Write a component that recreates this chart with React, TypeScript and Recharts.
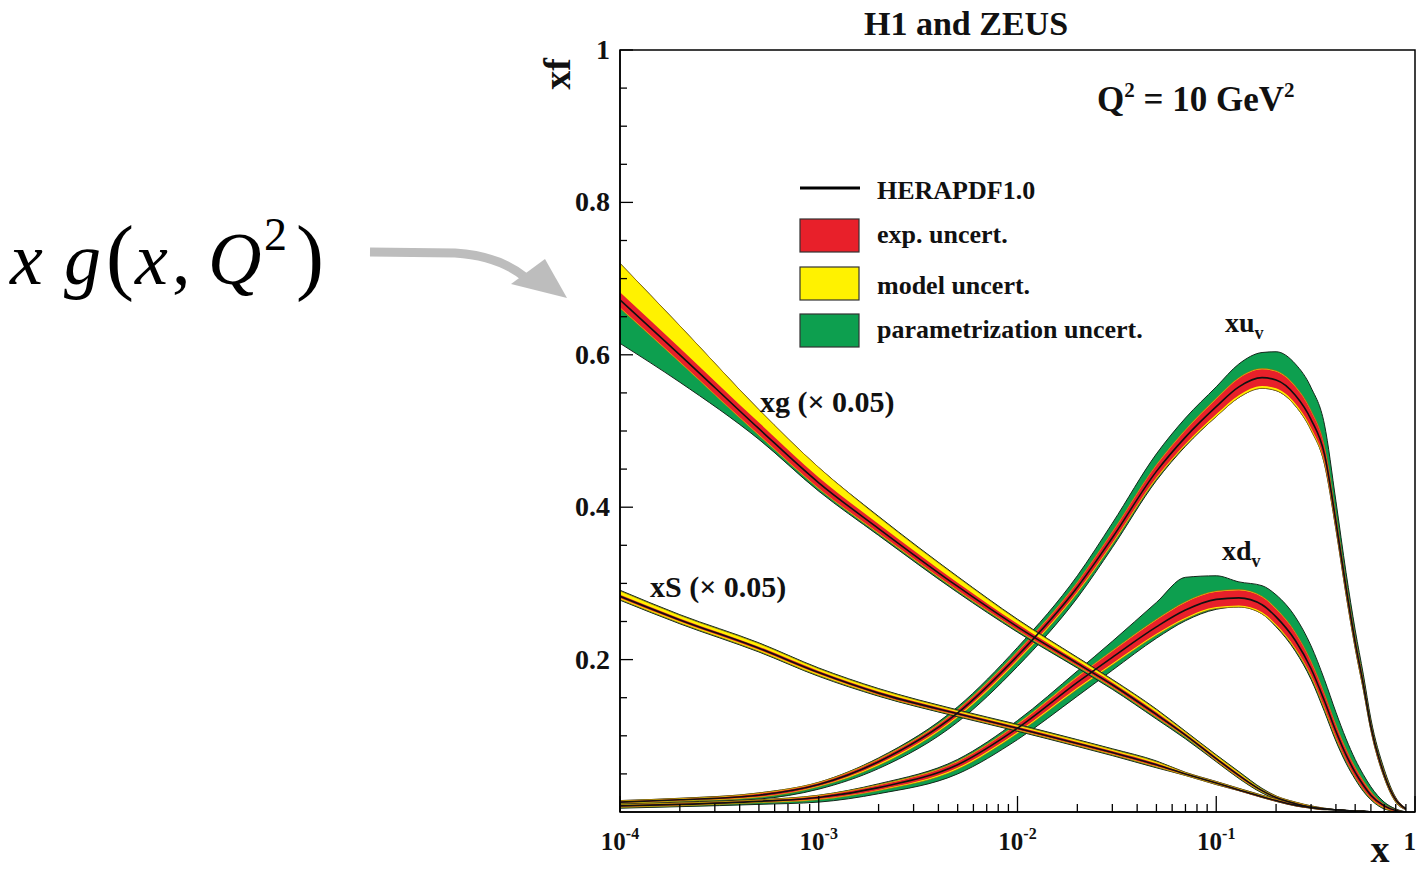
import { ComposedChart, Area, Line, XAxis, YAxis, ReferenceArea } from 'recharts';

// x grid shared by all the curves
const xGrid = [1e-4, 2e-4, 5e-4, 1e-3, 2e-3, 5e-3, 1e-2, 2e-2, 3e-2, 5e-2, 7e-2, 0.1, 0.13, 0.17, 0.2, 0.25, 0.3, 0.35, 0.4, 0.45, 0.5, 0.55, 0.6, 0.7, 0.8, 0.9];

// xu_v
const xuCentral = [0.013, 0.016, 0.022, 0.036, 0.066, 0.13, 0.205, 0.295, 0.36, 0.447, 0.492, 0.532, 0.558, 0.57, 0.567, 0.547, 0.515, 0.47, 0.381, 0.294, 0.223, 0.167, 0.112, 0.049, 0.016, 0.004];
const xuExp = [0.001, 0.001, 0.002, 0.002, 0.003, 0.004, 0.005, 0.006, 0.007, 0.008, 0.009, 0.01, 0.011, 0.011, 0.011, 0.011, 0.011, 0.01, 0.008, 0.007, 0.006, 0.005, 0.004, 0.003, 0.002, 0.001];
const xuModelUp = [0.001, 0.001, 0.001, 0.001, 0.001, 0.001, 0.001, 0.001, 0.001, 0.001, 0.001, 0.001, 0.001, 0.001, 0.001, 0.001, 0.001, 0.001, 0.001, 0.001, 0.001, 0.001, 0.001, 0.001, 0, 0];
const xuModelDown = [0.001, 0.001, 0.001, 0.001, 0.002, 0.002, 0.002, 0.002, 0.002, 0.002, 0.002, 0.003, 0.003, 0.003, 0.003, 0.003, 0.003, 0.003, 0.002, 0.002, 0.002, 0.002, 0.001, 0.001, 0.001, 0];
const xuParUp = [0, 0, 0, 0, 0.001, 0.003, 0.005, 0.008, 0.011, 0.014, 0.015, 0.015, 0.018, 0.021, 0.025, 0.029, 0.03, 0.028, 0.018, 0.012, 0.009, 0.007, 0.005, 0.003, 0.001, 0];
const xuParDown = [0.001, 0.001, 0.002, 0.003, 0.004, 0.006, 0.007, 0.006, 0.004, 0.002, 0.001, 0, 0, 0, 0, 0, 0, 0, 0, 0, 0, 0, 0, 0, 0, 0];

// xd_v
const xdCentral = [0.008, 0.01, 0.014, 0.019, 0.032, 0.062, 0.11, 0.17, 0.203, 0.243, 0.265, 0.279, 0.281, 0.272, 0.256, 0.225, 0.188, 0.146, 0.106, 0.075, 0.052, 0.035, 0.022, 0.008, 0.002, 0];
const xdExp = [0.001, 0.001, 0.001, 0.002, 0.003, 0.004, 0.005, 0.007, 0.008, 0.009, 0.01, 0.01, 0.01, 0.01, 0.01, 0.01, 0.009, 0.009, 0.008, 0.007, 0.006, 0.005, 0.004, 0.002, 0.001, 0];
const xdModelUp = [0.001, 0.001, 0.001, 0.001, 0.001, 0.001, 0.001, 0.001, 0.001, 0.001, 0.001, 0.001, 0.001, 0.001, 0.001, 0.001, 0.001, 0.001, 0.001, 0.001, 0.001, 0.001, 0.001, 0, 0, 0];
const xdModelDown = [0.001, 0.001, 0.001, 0.001, 0.001, 0.002, 0.002, 0.002, 0.002, 0.002, 0.002, 0.002, 0.002, 0.002, 0.002, 0.002, 0.002, 0.002, 0.002, 0.001, 0.001, 0.001, 0.001, 0.001, 0, 0];
const xdParUp = [0, 0, 0, 0, 0.001, 0.002, 0.004, 0.007, 0.012, 0.022, 0.032, 0.02, 0.01, 0.014, 0.018, 0.02, 0.02, 0.018, 0.016, 0.013, 0.01, 0.008, 0.006, 0.003, 0.001, 0];
const xdParDown = [0.001, 0.001, 0.002, 0.003, 0.004, 0.006, 0.008, 0.009, 0.007, 0.004, 0.002, 0.001, 0, 0, 0.001, 0.002, 0.003, 0.003, 0.003, 0.003, 0.002, 0.002, 0.001, 0.001, 0, 0];

// xg (x 0.05)
const xgCentral = [0.672, 0.6, 0.503, 0.432, 0.372, 0.296, 0.243, 0.195, 0.167, 0.128, 0.101, 0.07, 0.048, 0.028, 0.019, 0.011, 0.006, 0.004, 0.003, 0.002, 0.001, 0.001, 0, 0, 0, 0];
const xgExp = [0.01, 0.009, 0.008, 0.007, 0.006, 0.005, 0.004, 0.003, 0.003, 0.003, 0.002, 0.002, 0.002, 0.001, 0.001, 0.001, 0.001, 0.001, 0, 0, 0, 0, 0, 0, 0, 0];
const xgModelUp = [0.038, 0.029, 0.017, 0.013, 0.009, 0.007, 0.005, 0.004, 0.003, 0.003, 0.002, 0.002, 0.002, 0.001, 0.001, 0.001, 0.001, 0, 0, 0, 0, 0, 0, 0, 0, 0];
const xgModelDown = [0.001, 0.001, 0.001, 0.001, 0.001, 0.001, 0.001, 0.001, 0.001, 0.001, 0.001, 0.001, 0.001, 0.001, 0, 0, 0, 0, 0, 0, 0, 0, 0, 0, 0, 0];
const xgParUp = [0, 0, 0, 0, 0.001, 0.001, 0.001, 0.001, 0.001, 0.001, 0.001, 0.001, 0.001, 0.001, 0, 0, 0, 0, 0, 0, 0, 0, 0, 0, 0, 0];
const xgParDown = [0.046, 0.026, 0.005, 0.003, 0.002, 0.002, 0.002, 0.002, 0.002, 0.002, 0.002, 0.001, 0.001, 0.001, 0.001, 0, 0, 0, 0, 0, 0, 0, 0, 0, 0, 0];

// xS (x 0.05)
const xsCentral = [0.283, 0.252, 0.215, 0.183, 0.156, 0.129, 0.11, 0.09, 0.078, 0.062, 0.05, 0.038, 0.029, 0.02, 0.015, 0.009, 0.006, 0.004, 0.003, 0.002, 0.001, 0.001, 0, 0, 0, 0];
const xsExp = [0.002, 0.002, 0.002, 0.002, 0.002, 0.002, 0.002, 0.002, 0.002, 0.002, 0.001, 0.001, 0.001, 0.001, 0.001, 0.001, 0.001, 0, 0, 0, 0, 0, 0, 0, 0, 0];
const xsModelUp = [0.005, 0.004, 0.004, 0.003, 0.003, 0.002, 0.002, 0.002, 0.002, 0.002, 0.001, 0.001, 0.001, 0.001, 0.001, 0, 0, 0, 0, 0, 0, 0, 0, 0, 0, 0];
const xsModelDown = [0.002, 0.002, 0.002, 0.002, 0.001, 0.001, 0.001, 0.001, 0.001, 0.001, 0.001, 0.001, 0, 0, 0, 0, 0, 0, 0, 0, 0, 0, 0, 0, 0, 0];
const xsParUp = [0.001, 0.001, 0.001, 0.001, 0.001, 0.001, 0.001, 0.001, 0.001, 0.001, 0, 0, 0, 0, 0, 0, 0, 0, 0, 0, 0, 0, 0, 0, 0, 0];
const xsParDown = [0.001, 0.001, 0.001, 0.001, 0.001, 0.001, 0.001, 0.001, 0.001, 0.001, 0, 0, 0, 0, 0, 0, 0, 0, 0, 0, 0, 0, 0, 0, 0, 0];

// ticks
const xDecades = [1e-4, 1e-3, 1e-2, 1e-1];
const xMinorSteps = [2, 3, 4, 5, 6, 7, 8, 9];
const xTicks = [...xDecades.flatMap((d) => [d, ...xMinorSteps.map((m) => m * d)]), 1];
const yTicks = [0.05, 0.1, 0.15, 0.2, 0.25, 0.3, 0.35, 0.4, 0.45, 0.5, 0.55, 0.6, 0.65, 0.7, 0.75, 0.8, 0.85, 0.9, 0.95, 1];
const yLabelled = [0.2, 0.4, 0.6, 0.8, 1];

const RED = '#e8202a';
const YELLOW = '#fff200';
const GREEN = '#0d9f4f';
const FONT = '"Liberation Serif", "Times New Roman", serif';

const pdfs = [
  { key: 'xu', central: xuCentral, exp: xuExp, mUp: xuModelUp, mDn: xuModelDown, pUp: xuParUp, pDn: xuParDown },
  { key: 'xd', central: xdCentral, exp: xdExp, mUp: xdModelUp, mDn: xdModelDown, pUp: xdParUp, pDn: xdParDown },
  { key: 'xg', central: xgCentral, exp: xgExp, mUp: xgModelUp, mDn: xgModelDown, pUp: xgParUp, pDn: xgParDown },
  { key: 'xs', central: xsCentral, exp: xsExp, mUp: xsModelUp, mDn: xsModelDown, pUp: xsParUp, pDn: xsParDown },
];

const pos = (v: number) => Math.max(0, v);

// red = exp, yellow = exp + model, green = everything
const rows = xGrid.map((x, i) => {
  const row: Record<string, any> = { x };
  pdfs.forEach((p) => {
    const c = p.central[i];
    const rLo = c - p.exp[i];
    const rHi = c + p.exp[i];
    const yLo = rLo - p.mDn[i];
    const yHi = rHi + p.mUp[i];
    row[p.key] = c;
    row[p.key + 'Red'] = [pos(rLo), rHi];
    row[p.key + 'Yellow'] = [pos(yLo), yHi];
    row[p.key + 'Green'] = [pos(yLo - p.pDn[i]), yHi + p.pUp[i]];
  });
  return row;
});

function XTick(props: any) {
  const { x, y, payload } = props;
  const v = payload.value;
  const e = Math.round(Math.log10(v));
  const major = Math.abs(Math.log10(v) - e) < 1e-6;
  return (
    <g>
      <line x1={x} y1={y} x2={x} y2={y - (major ? 16 : 8)} stroke="#000" strokeWidth={1.3} />
      {major && e === 0 && (
        <text x={1416} y={y + 38} textAnchor="end" fontFamily={FONT} fontWeight="bold" fontSize={25} fill="#111">1</text>
      )}
      {major && e !== 0 && (
        <text x={x} y={y + 38} textAnchor="middle" fontFamily={FONT} fontWeight="bold" fontSize={25} fill="#111">
          <tspan>10</tspan>
          <tspan dy={-11} fontSize={16}>{'-' + Math.abs(e)}</tspan>
        </text>
      )}
    </g>
  );
}

function YTick(props: any) {
  const { x, y, payload } = props;
  const v = payload.value;
  const major = yLabelled.some((t) => Math.abs(t - v) < 1e-6);
  return (
    <g>
      <line x1={x} y1={y} x2={x + (major ? 13 : 7)} y2={y} stroke="#000" strokeWidth={1.3} />
      {major && (
        <text x={x - 10} y={y + 9} textAnchor="end" fontFamily={FONT} fontWeight="bold" fontSize={28} fill="#111">
          {v === 1 ? '1' : v.toFixed(1)}
        </text>
      )}
    </g>
  );
}

export default function App() {
  const series: any[] = [];
  pdfs.forEach((p) => {
    series.push(
      <Area key={p.key + 'g'} dataKey={p.key + 'Green'} type="monotone" fill={GREEN} fillOpacity={1} stroke="#13261a" strokeWidth={1} isAnimationActive={false} dot={false} activeDot={false} />,
      <Area key={p.key + 'y'} dataKey={p.key + 'Yellow'} type="monotone" fill={YELLOW} fillOpacity={1} stroke="#a0600a" strokeWidth={0.6} isAnimationActive={false} dot={false} activeDot={false} />,
      <Area key={p.key + 'r'} dataKey={p.key + 'Red'} type="monotone" fill={RED} fillOpacity={1} stroke="none" isAnimationActive={false} dot={false} activeDot={false} />,
      <Line key={p.key + 'c'} dataKey={p.key} type="monotone" stroke="#111" strokeWidth={1.6} dot={false} activeDot={false} isAnimationActive={false} />
    );
  });

  return (
    <div style={{ position: 'absolute', left: 0, top: 0, width: 1416, height: 873, background: '#fff', overflow: 'hidden' }}>
      <ComposedChart width={1416} height={873} data={rows} margin={{ top: 50, right: 1, bottom: 31, left: 560 }}>
        <XAxis
          dataKey="x"
          type="number"
          scale="log"
          domain={[1e-4, 1]}
          allowDataOverflow
          ticks={xTicks}
          interval={0}
          tick={(p: any) => <XTick {...p} />}
          tickLine={false}
          tickSize={0}
          tickMargin={0}
          height={30}
          axisLine={{ stroke: '#000', strokeWidth: 1.5 }}
        />
        <YAxis
          type="number"
          domain={[0, 1]}
          allowDataOverflow
          ticks={yTicks}
          interval={0}
          tick={(p: any) => <YTick {...p} />}
          tickLine={false}
          tickSize={0}
          tickMargin={0}
          width={60}
          axisLine={{ stroke: '#000', strokeWidth: 1.5 }}
        />
        {series}
        <ReferenceArea x1={1e-4} x2={1} y1={0} y2={1} fill="none" stroke="#000" strokeWidth={1.5} ifOverflow="visible" />
      </ComposedChart>

      <svg width={1416} height={873} style={{ position: 'absolute', left: 0, top: 0, pointerEvents: 'none' }}>
        <g fontFamily={FONT} fontWeight="bold" fill="#111">
          <text x={966} y={35} textAnchor="middle" fontSize={34}>H1 and ZEUS</text>
          <text x={570} y={74} textAnchor="middle" fontSize={38} transform="rotate(-90 570 74)">xf</text>
          <text x={1380} y={862} textAnchor="middle" fontSize={38}>x</text>
          <text x={1097} y={111} fontSize={35}>
            <tspan>Q</tspan>
            <tspan dy={-14} fontSize={21}>2</tspan>
            <tspan dy={14}> = 10 GeV</tspan>
            <tspan dy={-14} fontSize={21}>2</tspan>
          </text>

          <line x1={800} y1={188} x2={860} y2={188} stroke="#000" strokeWidth={3} />
          <text x={877} y={199} fontSize={26}>HERAPDF1.0</text>
          <rect x={800} y={219} width={59} height={33} fill={RED} stroke="#333" strokeWidth={1.2} />
          <text x={877} y={243} fontSize={26}>exp. uncert.</text>
          <rect x={800} y={267} width={59} height={33} fill={YELLOW} stroke="#333" strokeWidth={1.2} />
          <text x={877} y={294} fontSize={26}>model uncert.</text>
          <rect x={800} y={314} width={59} height={33} fill={GREEN} stroke="#333" strokeWidth={1.2} />
          <text x={877} y={338} fontSize={26}>parametrization uncert.</text>

          <text x={760} y={412} fontSize={30}>xg (× 0.05)</text>
          <text x={650} y={597} fontSize={30}>xS (× 0.05)</text>
          <text x={1225} y={332} fontSize={28}>
            <tspan>xu</tspan>
            <tspan dy={7} fontSize={18}>v</tspan>
          </text>
          <text x={1222} y={560} fontSize={28}>
            <tspan>xd</tspan>
            <tspan dy={7} fontSize={18}>v</tspan>
          </text>
        </g>

        <text y={284} fontFamily={FONT} fontSize={74} fill="#000">
          <tspan x={10} fontStyle="italic">x</tspan>
          <tspan x={64} fontStyle="italic">g</tspan>
          <tspan x={106} fontSize={84}>(</tspan>
          <tspan x={135} fontStyle="italic">x</tspan>
          <tspan x={172}>,</tspan>
          <tspan x={208} fontStyle="italic">Q</tspan>
          <tspan x={264} dy={-34} fontSize={46}>2</tspan>
          <tspan x={296} dy={34} fontSize={84}>)</tspan>
        </text>
        <path d="M370,252 L455,253 Q500,256 526,278" fill="none" stroke="#bdbdbd" strokeWidth={9} />
        <polygon points="511,284 545,259 567,298" fill="#bdbdbd" />
      </svg>
    </div>
  );
}
